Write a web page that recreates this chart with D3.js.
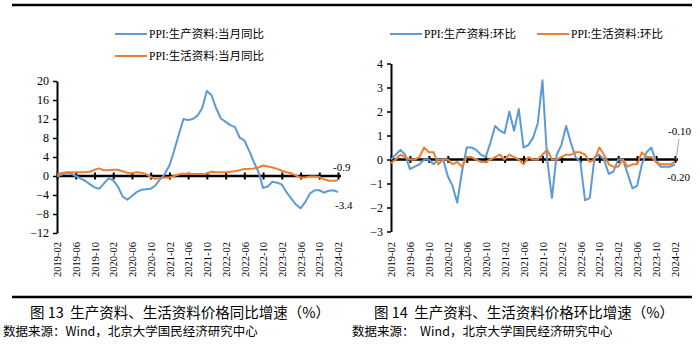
<!DOCTYPE html>
<html>
<head>
<meta charset="utf-8">
<script src="https://cdn.jsdelivr.net/npm/d3@7"></script>
<style>
body { margin: 0; background: #fff; }
svg { display: block; }
</style>
</head>
<body>
<svg></svg>
<script>
var months = [
    "2019-02","2019-03","2019-04","2019-05","2019-06","2019-07","2019-08","2019-09","2019-10","2019-11","2019-12",
    "2020-01","2020-02","2020-03","2020-04","2020-05","2020-06","2020-07","2020-08","2020-09","2020-10","2020-11","2020-12",
    "2021-01","2021-02","2021-03","2021-04","2021-05","2021-06","2021-07","2021-08","2021-09","2021-10","2021-11","2021-12",
    "2022-01","2022-02","2022-03","2022-04","2022-05","2022-06","2022-07","2022-08","2022-09","2022-10","2022-11","2022-12",
    "2023-01","2023-02","2023-03","2023-04","2023-05","2023-06","2023-07","2023-08","2023-09","2023-10","2023-11","2023-12",
    "2024-01","2024-02"
];
var tickMonths = ["2019-02","2019-06","2019-10","2020-02","2020-06","2020-10","2021-02","2021-06",
    "2021-10","2022-02","2022-06","2022-10","2023-02","2023-06","2023-10","2024-02"];

// 图13 同比
var prodYoY = [
    -0.1, 0.3, 0.6, 0.5, 0.0, -0.5, -1.0, -1.7, -2.4, -2.7, -1.6,
    -0.5, -0.9, -2.2, -4.3, -5.0, -4.2, -3.4, -2.9, -2.8, -2.7, -2.0, -0.7,
    0.4, 2.2, 5.3, 8.7, 12.0, 11.8, 12.0, 12.7, 14.3, 17.9, 17.0, 14.2,
    12.1, 11.4, 10.7, 10.3, 8.1, 7.5, 5.4, 3.0, 0.9, -2.5, -2.2, -1.2,
    -1.4, -1.8, -3.4, -4.7, -6.0, -6.8, -5.5, -3.7, -3.0, -3.0, -3.5, -3.1,
    -3.0, -3.4
];
var consYoY = [
    0.4, 0.6, 0.8, 0.8, 0.8, 0.8, 0.8, 0.9, 1.3, 1.6, 1.2,
    1.2, 1.3, 1.3, 1.0, 0.7, 0.6, 0.8, 0.7, 0.4, -0.2, -0.6, -0.5,
    -0.3, -0.3, 0.0, 0.3, 0.5, 0.4, 0.4, 0.4, 0.4, 0.5, 0.9, 0.8,
    0.8, 0.8, 0.9, 1.0, 1.2, 1.5, 1.5, 1.6, 1.8, 2.2, 2.0, 1.8,
    1.5, 1.1, 0.8, 0.6, 0.1, -0.3, -0.3, -0.1, -0.1, -0.2, -0.7, -1.0,
    -1.0, -0.9
];

// 图14 环比
var prodMoM = [
    0.0, 0.2, 0.4, 0.2, -0.4, -0.3, -0.2, 0.0, 0.0, -0.2, 0.0,
    0.0, -0.7, -1.1, -1.8, -0.5, 0.5, 0.5, 0.4, 0.2, 0.1, 0.7, 1.4,
    1.2, 1.1, 2.0, 1.2, 2.1, 0.5, 0.6, 0.9, 1.5, 3.3, 0.0, -1.6,
    0.2, 0.6, 1.4, 0.7, 0.1, -0.1, -1.7, -1.6, 0.1, 0.2, 0.0, -0.6,
    -0.5, 0.0, 0.0, -0.6, -1.2, -1.1, -0.2, 0.3, 0.5, -0.1, -0.3, -0.3,
    -0.3, -0.2
];
var consMoM = [
    -0.15, 0.0, 0.2, 0.1, 0.0, 0.0, 0.1, 0.5, 0.3, 0.3, -0.2,
    0.0, 0.0, -0.2, -0.1, -0.3, 0.1, 0.1, 0.0, -0.1, -0.1, 0.0, 0.1,
    0.2, 0.0, 0.2, 0.1, 0.0, -0.2, 0.1, 0.0, 0.0, 0.2, 0.4, 0.0,
    0.0, 0.1, 0.2, 0.2, 0.3, 0.3, 0.2, -0.1, 0.0, 0.5, 0.2, -0.2,
    -0.3, -0.3, 0.0, -0.3, -0.2, -0.2, 0.3, 0.1, 0.1, -0.1, -0.2, -0.2,
    -0.2, -0.1
];

var yoyTicks = [-12, -8, -4, 0, 4, 8, 12, 16, 20];
var momTicks = [-3, -2, -1, 0, 1, 2, 3, 4];

var blue = "#5B9BD5", orange = "#ED7D31";
var serif = "'Times New Roman', 'Liberation Serif', 'Noto Sans CJK SC', serif";
var cjk = "'Noto Sans CJK SC', sans-serif";

var svg = d3.select("svg")
    .attr("width", 700)
    .attr("height", 354);

svg.append("rect").attr("width", 700).attr("height", 354).attr("fill", "#fff");

// 上下黑线
[5, 297].forEach(function(yy) {
    svg.append("line")
        .attr("x1", 12).attr("x2", 692)
        .attr("y1", yy).attr("y2", yy)
        .attr("stroke", "#000").attr("stroke-width", 2.5);
});

function drawPanel(cfg) {
    var x = d3.scalePoint().domain(months).range(cfg.xRange);
    var y = d3.scaleLinear().domain(cfg.yDomain).range(cfg.yRange);
    var g = svg.append("g");

    var yAxis = g.append("g")
        .attr("transform", "translate(" + cfg.xRange[0] + ",0)")
        .call(d3.axisLeft(y).tickValues(cfg.yTicks).tickFormat(d3.format("d"))
            .tickSize(4).tickSizeOuter(0).tickPadding(4));
    yAxis.select(".domain").attr("stroke-width", 2);
    yAxis.selectAll(".tick line").attr("stroke-width", 1.5);
    yAxis.selectAll("text")
        .attr("fill", "#000")
        .style("font-family", serif)
        .style("font-size", "12px");

    var xAxis = g.append("g")
        .attr("transform", "translate(0," + y(0) + ")")
        .call(d3.axisBottom(x).tickValues(tickMonths).tickSize(0).tickSizeOuter(0).tickFormat(""));
    xAxis.select(".domain")
        .attr("stroke-width", 2.5)
        .attr("d", "M" + cfg.xRange[0] + ",0H" + (cfg.xRange[1] + 3));
    xAxis.selectAll(".tick line")
        .attr("y1", -3.5).attr("y2", 3.5)
        .attr("stroke-width", 2);

    var labAxis = g.append("g")
        .attr("transform", "translate(0,240)")
        .call(d3.axisBottom(x).tickValues(tickMonths).tickSize(0));
    labAxis.select(".domain").remove();
    labAxis.selectAll("text")
        .attr("transform", "rotate(-90)")
        .attr("x", -2)
        .attr("y", 0)
        .attr("dy", "0.35em")
        .attr("fill", "#000")
        .style("text-anchor", "end")
        .style("font-family", serif)
        .style("font-size", "10.5px");

    cfg.series.forEach(function(s) {
        g.append("path")
            .datum(s.values)
            .attr("fill", "none")
            .attr("stroke", s.color)
            .attr("stroke-width", 2)
            .attr("stroke-linejoin", "round")
            .attr("d", d3.line()
                .x(function(d, i) { return x(months[i]); })
                .y(function(d) { return y(d); }));
    });

    var last = months[months.length - 1];
    cfg.endLabels.forEach(function(l) {
        var v = l.values[l.values.length - 1];
        var px = x(last), py = y(v);
        if (l.leader) {
            g.append("line")
                .attr("x1", px + 1).attr("y1", py - 2)
                .attr("x2", px + 4).attr("y2", py + l.dy + 4)
                .attr("stroke", "#A5A5A5").attr("stroke-width", 1);
        }
        g.append("text")
            .attr("x", px + l.dx)
            .attr("y", py + l.dy)
            .attr("fill", "#000")
            .style("font-family", serif)
            .style("font-size", "11px")
            .text(l.text);
    });

    cfg.legend.forEach(function(l) {
        g.append("line")
            .attr("x1", l.x).attr("x2", l.x + 32)
            .attr("y1", l.y).attr("y2", l.y)
            .attr("stroke", l.color).attr("stroke-width", 2);
        g.append("text")
            .attr("x", l.x + 34)
            .attr("y", l.y + 4)
            .attr("fill", "#000")
            .style("font-family", serif)
            .style("font-size", "11.5px")
            .text(l.text);
    });

    g.append("text")
        .attr("x", cfg.captionX)
        .attr("y", 318)
        .attr("fill", "#000")
        .style("white-space", "pre")
        .style("text-anchor", "middle")
        .style("font-family", cjk)
        .style("font-size", "14.5px")
        .text(cfg.caption);

    g.append("text")
        .attr("x", cfg.sourceX)
        .attr("y", 336)
        .attr("fill", "#000")
        .style("white-space", "pre")
        .style("font-family", cjk)
        .style("font-size", "12.5px")
        .text(cfg.source);
}

drawPanel({
    xRange: [57, 338],
    yDomain: [-12, 20],
    yRange: [233, 81],
    yTicks: yoyTicks,
    series: [
        {values: prodYoY, color: blue},
        {values: consYoY, color: orange}
    ],
    endLabels: [
        {values: consYoY, text: "-0.9", dx: -5, dy: -9},
        {values: prodYoY, text: "-3.4", dx: -3, dy: 16.5}
    ],
    legend: [
        {x: 115, y: 34, color: blue, text: "PPI:生产资料:当月同比"},
        {x: 115, y: 56, color: orange, text: "PPI:生活资料:当月同比"}
    ],
    caption: "图 13  生产资料、生活资料价格同比增速（%）",
    captionX: 180,
    source: "数据来源：Wind，北京大学国民经济研究中心",
    sourceX: 3
});

drawPanel({
    xRange: [391, 675],
    yDomain: [-3, 4],
    yRange: [231.5, 63.5],
    yTicks: momTicks,
    series: [
        {values: prodMoM, color: blue},
        {values: consMoM, color: orange}
    ],
    endLabels: [
        {values: consMoM, text: "-0.10", dx: -7, dy: -27, leader: true},
        {values: prodMoM, text: "-0.20", dx: -8, dy: 17}
    ],
    legend: [
        {x: 390, y: 34, color: blue, text: "PPI:生产资料:环比"},
        {x: 537, y: 34, color: orange, text: "PPI:生活资料:环比"}
    ],
    caption: "图 14  生产资料、生活资料价格环比增速（%）",
    captionX: 524,
    source: "数据来源：  Wind，北京大学国民经济研究中心",
    sourceX: 352
});
</script>
</body>
</html>
